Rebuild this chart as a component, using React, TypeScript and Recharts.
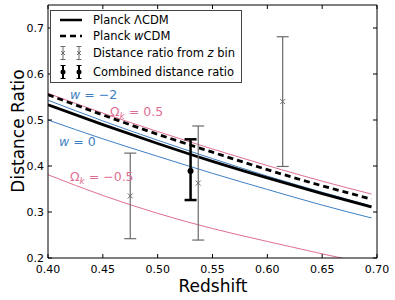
import React from "react";
import { ComposedChart, Line, Scatter, ErrorBar, XAxis, YAxis } from "recharts";

const Z = [0.4, 0.45, 0.5, 0.55, 0.6, 0.65, 0.695];
const LCDM = [0.533, 0.49, 0.449, 0.41, 0.374, 0.34, 0.311];
const WCDM = [0.555, 0.511, 0.469, 0.43, 0.392, 0.357, 0.328];
const W_M2 = [0.543, 0.498, 0.456, 0.416, 0.378, 0.343, 0.313];
const W_0 = [0.5, 0.459, 0.421, 0.384, 0.349, 0.315, 0.287];
const OK_P = [0.558, 0.515, 0.475, 0.437, 0.401, 0.367, 0.339];
const OK_M = [0.381, 0.336, 0.297, 0.264, 0.236, 0.209, 0.186];

const BIN_Z = [0.475, 0.537, 0.614];
const BIN_V = [0.335, 0.363, 0.54];
const BIN_ERR = [0.093, 0.124, 0.141];

const COMB_Z = [0.53];
const COMB_V = [0.389];
const COMB_LO = [0.063];
const COMB_HI = [0.069];

const X_TICKS = [0.4, 0.45, 0.5, 0.55, 0.6, 0.65, 0.7];
const Y_TICKS = [0.2, 0.3, 0.4, 0.5, 0.6, 0.7];

const BLUE = "#3d7fc2";
const PINK = "#de6f94";
const GRAY = "#6b6b6b";
const FONT = "'DejaVu Sans', sans-serif";

const curve = (vals: number[]) => Z.map((z, i) => ({ z, v: vals[i] }));
const bins = BIN_Z.map((z, i) => ({ z, v: BIN_V[i], err: [BIN_ERR[i], BIN_ERR[i]] }));
const combined = COMB_Z.map((z, i) => ({ z, v: COMB_V[i], err: [COMB_LO[i], COMB_HI[i]] }));

const Cross = (p: any) => (
  <g stroke={GRAY} strokeWidth={1}>
    <line x1={p.cx - 2.5} y1={p.cy - 2.5} x2={p.cx + 2.5} y2={p.cy + 2.5} />
    <line x1={p.cx - 2.5} y1={p.cy + 2.5} x2={p.cx + 2.5} y2={p.cy - 2.5} />
  </g>
);
const Dot = (p: any) => <circle cx={p.cx} cy={p.cy} r={3} fill="#000" />;
const noTick = () => <g />;

const tickStyle = { fill: "#000", fontSize: 11, fontFamily: FONT };

function LegendBox() {
  const row = (top: number): React.CSSProperties => ({ position: "absolute", left: 8, top, display: "flex", alignItems: "center", height: 16, whiteSpace: "nowrap" });
  const lineSample = (dash?: string) => (
    <svg width={24} height={16} style={{ marginRight: 10 }}>
      <line x1={1} y1={8} x2={23} y2={8} stroke="#000" strokeWidth={2.5} strokeDasharray={dash} />
    </svg>
  );
  const errSample = (color: string, w: number, dot: boolean) => (
    <svg width={24} height={16} style={{ marginRight: 10 }}>
      {[4, 20].map(x => (
        <g key={x} stroke={color} strokeWidth={w}>
          <line x1={x} y1={1.5} x2={x} y2={14.5} />
          <line x1={x - 2.5} y1={1.5} x2={x + 2.5} y2={1.5} strokeWidth={1} />
          <line x1={x - 2.5} y1={14.5} x2={x + 2.5} y2={14.5} strokeWidth={1} />
          {dot ? <circle cx={x} cy={8} r={2.5} fill={color} stroke="none" /> : (
            <g strokeWidth={1}>
              <line x1={x - 2} y1={6} x2={x + 2} y2={10} />
              <line x1={x - 2} y1={10} x2={x + 2} y2={6} />
            </g>
          )}
        </g>
      ))}
    </svg>
  );
  return (
    <div style={{ position: "absolute", left: 50, top: 10, width: 192, height: 73, border: "1px solid #444", background: "#fff", fontFamily: FONT, fontSize: 11.5, boxSizing: "border-box" }}>
      <div style={row(1)}>{lineSample()}<span>Planck ΛCDM</span></div>
      <div style={row(17)}>{lineSample("6 4")}<span>Planck <i>w</i>CDM</span></div>
      <div style={row(34)}>{errSample(GRAY, 1, false)}<span>Distance ratio from <i>z</i> bin</span></div>
      <div style={row(53)}>{errSample("#000", 2, true)}<span>Combined distance ratio</span></div>
    </div>
  );
}

const note = (left: number, top: number, color: string, content: React.ReactNode) => (
  <div style={{ position: "absolute", left, top, color, fontFamily: FONT, fontSize: 12.5, whiteSpace: "nowrap", lineHeight: "12px", height: 12 }}>{content}</div>
);
const omegaK = (val: string) => (
  <span>Ω<span style={{ fontSize: 9, fontStyle: "italic", position: "relative", top: 3 }}>k</span> = {val}</span>
);

export default function App() {
  return (
    <div style={{ position: "absolute", left: 0, top: 0, width: 395, height: 300, background: "#fff" }}>
      <ComposedChart width={395} height={300} margin={{ top: 4, right: 17, bottom: 0, left: 0 }}>
        <XAxis xAxisId="b" type="number" dataKey="z" domain={[0.4, 0.7]} ticks={X_TICKS} allowDataOverflow
          tickFormatter={(v: number) => v.toFixed(2)} tick={tickStyle} height={42}
          tickSize={-4} tickMargin={11} axisLine={{ stroke: "#000" }} tickLine={{ stroke: "#000" }}
          label={{ content: () => <text x={213} y={292} textAnchor="middle" fontSize={17} fontFamily={FONT}>Redshift</text> }} />
        <XAxis xAxisId="t" orientation="top" type="number" dataKey="z" domain={[0.4, 0.7]} ticks={X_TICKS} allowDataOverflow
          height={1} tick={noTick} tickSize={-4} axisLine={{ stroke: "#000" }} tickLine={{ stroke: "#000" }} />
        <YAxis yAxisId="l" type="number" domain={[0.2, 0.75]} ticks={Y_TICKS} allowDataOverflow
          tickFormatter={(v: number) => v.toFixed(1)} tick={tickStyle} width={48}
          tickSize={-4} tickMargin={8} axisLine={{ stroke: "#000" }} tickLine={{ stroke: "#000" }}
          label={{ content: () => <text x={18} y={131} transform="rotate(-90 18 131)" textAnchor="middle" dominantBaseline="central" fontSize={17} fontFamily={FONT}>Distance Ratio</text> }} />
        <YAxis yAxisId="r" orientation="right" type="number" domain={[0.2, 0.75]} ticks={Y_TICKS} allowDataOverflow
          width={1} tick={noTick} tickSize={-4} axisLine={{ stroke: "#000" }} tickLine={{ stroke: "#000" }} />

        <Line xAxisId="b" yAxisId="l" data={curve(OK_M)} dataKey="v" type="monotone" stroke={PINK} strokeWidth={1} dot={false} isAnimationActive={false} />
        <Line xAxisId="b" yAxisId="l" data={curve(W_0)} dataKey="v" type="monotone" stroke={BLUE} strokeWidth={1} dot={false} isAnimationActive={false} />
        <Line xAxisId="b" yAxisId="l" data={curve(OK_P)} dataKey="v" type="monotone" stroke={PINK} strokeWidth={1} dot={false} isAnimationActive={false} />
        <Line xAxisId="b" yAxisId="l" data={curve(W_M2)} dataKey="v" type="monotone" stroke={BLUE} strokeWidth={1} dot={false} isAnimationActive={false} />
        <Line xAxisId="b" yAxisId="l" data={curve(LCDM)} dataKey="v" type="monotone" stroke="#000" strokeWidth={2.8} dot={false} isAnimationActive={false} />
        <Line xAxisId="b" yAxisId="l" data={curve(WCDM)} dataKey="v" type="monotone" stroke="#000" strokeWidth={2.8} strokeDasharray="6 4" dot={false} isAnimationActive={false} />

        <Scatter xAxisId="b" yAxisId="l" data={bins} dataKey="v" shape={Cross} isAnimationActive={false}>
          <ErrorBar dataKey="err" direction="y" width={6} stroke={GRAY} strokeWidth={1.2} isAnimationActive={false} />
        </Scatter>
        <Scatter xAxisId="b" yAxisId="l" data={combined} dataKey="v" shape={Dot} isAnimationActive={false}>
          <ErrorBar dataKey="err" direction="y" width={6} stroke="#000" strokeWidth={2.5} isAnimationActive={false} />
        </Scatter>
      </ComposedChart>
      <LegendBox />
      {note(70, 89, BLUE, <span><i>w</i> = −2</span>)}
      {note(110, 106, PINK, omegaK("0.5"))}
      {note(59, 136, BLUE, <span><i>w</i> = 0</span>)}
      {note(70, 171, PINK, omegaK("−0.5"))}
    </div>
  );
}
